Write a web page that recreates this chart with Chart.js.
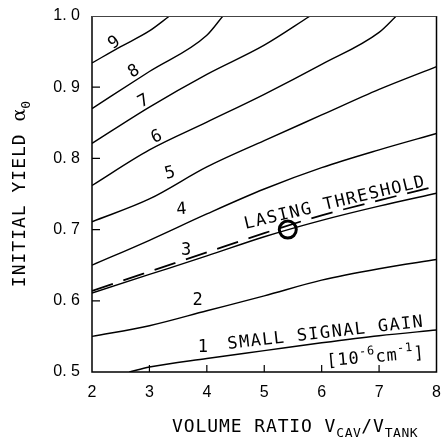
<!DOCTYPE html>
<html><head><meta charset="utf-8">
<script src="https://cdn.jsdelivr.net/npm/chart.js@4.4.0/dist/chart.umd.min.js"></script>
<style>html,body{margin:0;padding:0;background:#fff;}canvas{display:block}</style>
</head><body><canvas id="c" width="448" height="439"></canvas>
<script>
// ---- data ----
const xTicks = [2, 3, 4, 5, 6, 7, 8];
const yTicks = [0.5, 0.6, 0.7, 0.8, 0.9, 1.0];
const yTickLabels = ['0. 5', '0. 6', '0. 7', '0. 8', '0. 9', '1. 0'];

const gain1 = [[2.65,0.5],[3,0.507],[4,0.519],[5,0.53],[6,0.541],[7,0.551],[8,0.559]];
const gain2 = [[2,0.55],[3,0.565],[4,0.586],[5,0.607],[6,0.629],[7,0.645],[8,0.658]];
const gain3 = [[2,0.611],[3,0.637],[4,0.663],[5,0.69],[6,0.713],[7,0.733],[8,0.751]];
const gain4 = [[2,0.65],[3,0.685],[4,0.722],[5,0.757],[6,0.787],[7,0.812],[8,0.835]];
const gain5 = [[2,0.711],[3,0.743],[4,0.788],[5,0.825],[6,0.861],[7,0.897],[8,0.929]];
const gain6 = [[2,0.762],[3,0.812],[4,0.851],[5,0.89],[6,0.932],[7,0.977],[7.3,1.0]];
const gain7 = [[2,0.821],[3,0.872],[4,0.918],[5,0.959],[5.8,1.0]];
const gain8 = [[2,0.870],[3,0.922],[4,0.973],[4.28,1.0]];
const gain9 = [[2,0.934],[2.5,0.957],[3,0.979],[3.35,1.0]];
const lasingThreshold = [[2,0.614],[3,0.641],[4,0.668],[5,0.695],[6,0.72],[7,0.741],[8,0.761]];
const operatingPoint = [[5.41,0.70]];

const contourLabels = ['1','2','3','4','5','6','7','8','9'];
const contourLabelX = [3.93,3.84,3.64,3.56,3.36,3.13,2.90,2.73,2.39];
const contourLabelY = [0.534,0.601,0.671,0.728,0.779,0.830,0.880,0.922,0.962];
const contourLabelAngle = [0,0,0,-5,-15,-25,-28,-30,-35];

const PLOT_FONT = '"DejaVu Sans Mono", monospace';

function ds(pts, extra) {
  return Object.assign({
    data: pts.map(p => ({x: p[0], y: p[1]})),
    showLine: true, borderColor: '#000', borderWidth: 1.4,
    pointRadius: 0, fill: false, cubicInterpolationMode: 'monotone'
  }, extra || {});
}
function drawPieces(ctx, pieces, x, spacing) {
  for (const p of pieces) {
    ctx.font = p.size + 'px ' + (p.family || PLOT_FONT);
    for (const ch of p.t) {
      ctx.fillText(ch, x, p.dy || 0);
      x += ctx.measureText(ch).width + (p.sp !== undefined ? p.sp : spacing);
    }
  }
  return x;
}
function piecesWidth(ctx, pieces, spacing) {
  let w = 0;
  for (const p of pieces) {
    ctx.font = p.size + 'px ' + (p.family || PLOT_FONT);
    for (const ch of p.t) w += ctx.measureText(ch).width + (p.sp !== undefined ? p.sp : spacing);
  }
  return w - spacing;
}
function drawRotated(ctx, pieces, cx, cy, angleDeg, spacing) {
  ctx.save();
  ctx.translate(cx, cy);
  ctx.rotate(angleDeg * Math.PI / 180);
  const w = piecesWidth(ctx, pieces, spacing);
  ctx.textAlign = 'left';
  ctx.textBaseline = 'alphabetic';
  drawPieces(ctx, pieces, -w / 2, spacing);
  ctx.restore();
}

const decor = {
  id: 'decor',
  afterDatasetsDraw(chart) {
    const ctx = chart.ctx, a = chart.chartArea;
    const xs = chart.scales.x, ys = chart.scales.y;
    ctx.save();
    ctx.strokeStyle = '#000';
    ctx.fillStyle = '#000';
    ctx.lineWidth = 1.5;
    ctx.beginPath();
    ctx.moveTo(a.left, a.top); ctx.lineTo(a.left, a.bottom); ctx.lineTo(a.right, a.bottom); ctx.lineTo(a.right, a.top);
    ctx.stroke();
    ctx.lineWidth = 1;
    ctx.strokeStyle = '#444';
    ctx.beginPath(); ctx.moveTo(a.left, a.top + 0.5); ctx.lineTo(a.right, a.top + 0.5); ctx.stroke();
    ctx.strokeStyle = '#000';
    ctx.lineWidth = 1.2;
    ctx.beginPath();
    xTicks.slice(1, -1).forEach(v => { const px = xs.getPixelForValue(v); ctx.moveTo(px, a.bottom); ctx.lineTo(px, a.bottom - 7); });
    yTicks.slice(1, -1).forEach(v => { const py = ys.getPixelForValue(v); ctx.moveTo(a.left, py); ctx.lineTo(a.left + 8, py); });
    ctx.stroke();
    ctx.textAlign = 'center'; ctx.textBaseline = 'middle';
    ctx.font = '17px ' + PLOT_FONT;
    contourLabels.forEach((lab, i) => {
      ctx.save();
      ctx.translate(xs.getPixelForValue(contourLabelX[i]), ys.getPixelForValue(contourLabelY[i]));
      ctx.rotate(contourLabelAngle[i] * Math.PI / 180);
      ctx.fillText(lab, 0, 0);
      ctx.restore();
    });
    drawRotated(ctx, [{t: 'LASING THRESHOLD', size: 17}], xs.getPixelForValue(6.24), ys.getPixelForValue(0.731), -13.4, 1.4);
    drawRotated(ctx, [{t: 'SMALL SIGNAL GAIN', size: 17}], xs.getPixelForValue(6.07), ys.getPixelForValue(0.548), -6.5, 1.4);
    drawRotated(ctx, [
      {t: '[10', size: 17}, {t: '-6', size: 12, dy: -8}, {t: 'cm', size: 17}, {t: '-1', size: 12, dy: -8}, {t: ']', size: 17}
    ], xs.getPixelForValue(6.94), ys.getPixelForValue(0.514), -5, 0.8);
    ctx.textAlign = 'left'; ctx.textBaseline = 'alphabetic';
    ctx.save();
    ctx.translate(0, 432);
    drawPieces(ctx, [
      {t: 'VOLUME RATIO V', size: 18}, {t: 'CAV', size: 13, dy: 5, sp: 0.5}, {t: '/', size: 18}, {t: 'V', size: 18}, {t: 'TANK', size: 13, dy: 5, sp: 0.5}
    ], 172, 0.9);
    ctx.restore();
    ctx.save();
    ctx.translate(25, 194);
    ctx.rotate(-Math.PI / 2);
    const yp = [{t: 'INITIAL YIELD ', size: 18}, {t: 'α', size: 19, family: '"DejaVu Serif", serif', sp: 0}, {t: '0', size: 13, dy: 5}];
    const w = piecesWidth(ctx, yp, 1.0);
    drawPieces(ctx, yp, -w / 2, 1.0);
    ctx.restore();
    ctx.restore();
  }
};

new Chart(document.getElementById('c'), {
  type: 'scatter',
  data: {
    datasets: [
      ds(gain1), ds(gain2), ds(gain3), ds(gain4), ds(gain5), ds(gain6), ds(gain7), ds(gain8), ds(gain9),
      ds(lasingThreshold, {borderDash: [22, 11], borderWidth: 1.7}),
      {data: operatingPoint.map(p => ({x: p[0], y: p[1]})), showLine: false, pointRadius: 8.5,
       pointBorderWidth: 3, pointBorderColor: '#000', pointBackgroundColor: 'rgba(0,0,0,0)'}
    ]
  },
  options: {
    responsive: false, animation: false, devicePixelRatio: 1,
    plugins: {legend: {display: false}, tooltip: {enabled: false}},
    layout: {padding: {top: 16, right: 5, left: 0, bottom: 0}},
    scales: {
      x: {
        type: 'linear', min: 2, max: 8,
        afterBuildTicks: s => { s.ticks = xTicks.map(v => ({value: v})); },
        grid: {display: false, drawTicks: false}, border: {display: false},
        ticks: {color: '#000', font: {family: '"Liberation Sans", Arial, sans-serif', size: 16}, padding: 11, maxRotation: 0, callback: v => String(v)},
        afterFit: s => { s.height = 67; s.paddingLeft = 0; s.paddingRight = 0; }
      },
      y: {
        type: 'linear', min: 0.5, max: 1.0,
        afterBuildTicks: s => { s.ticks = yTicks.map(v => ({value: v})); },
        grid: {display: false, drawTicks: false}, border: {display: false},
        ticks: {color: '#000', font: {family: '"Liberation Sans", Arial, sans-serif', size: 16}, padding: 12,
                callback: v => yTickLabels[yTicks.findIndex(t => Math.abs(t - v) < 1e-6)]},
        afterFit: s => { s.width = 92; s.paddingTop = 0; s.paddingBottom = 0; }
      }
    }
  },
  plugins: [decor]
});
</script>
</body></html>
